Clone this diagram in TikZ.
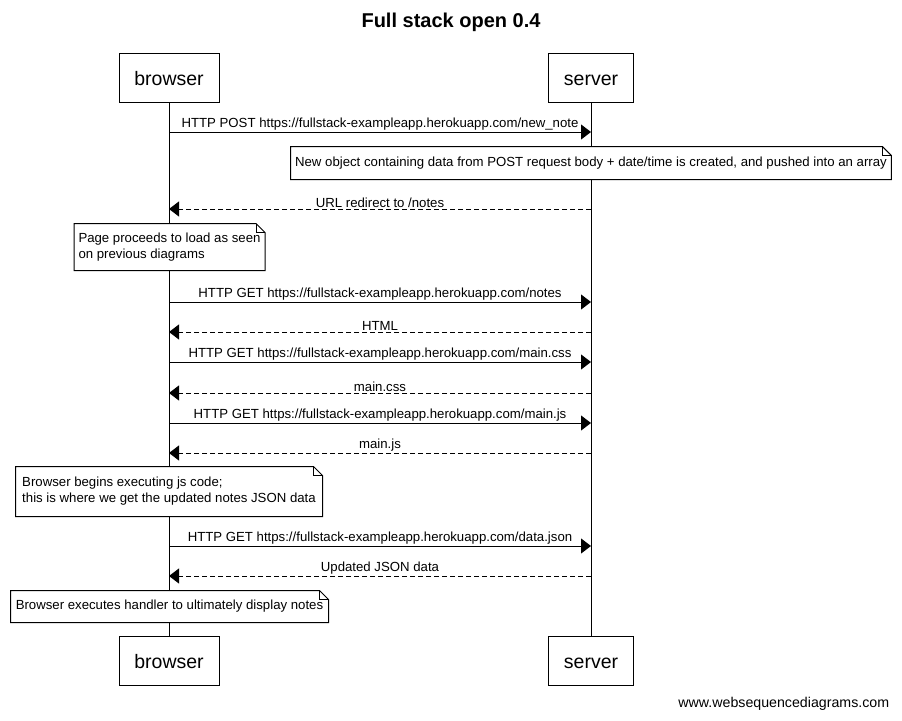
\documentclass[tikz,border=0pt]{standalone}
\usepackage{fontspec}
\setmainfont{Liberation Sans}
\usetikzlibrary{arrows.meta}

% outline of a note with a folded corner
\newcommand{\notefold}[1]{%
\draw (#1.south west) -- (#1.north west) -- ([xshift=-9pt]#1.north east) -- ([yshift=-9pt]#1.north east) -- (#1.south east) -- cycle;
\draw ([xshift=-9pt]#1.north east) -- ([xshift=-9pt,yshift=-9pt]#1.north east) -- ([yshift=-9pt]#1.north east);}

\begin{document}
\begin{tikzpicture}[x=1pt, y=-1pt, line width=1pt,
  actor/.style={draw, minimum height=49pt, text height=18pt, text depth=2pt, font=\fontsize{19.5}{22}\selectfont},
  note/.style={fill=white, inner xsep=4pt, align=left, font=\fontsize{13.2}{16}\selectfont},
  call/.style={-{Triangle[length=10pt,width=15pt]}},
  reply/.style={call, dash pattern=on 5pt off 3pt},
  lbl/.style={above, inner sep=1pt, font=\fontsize{13.2}{15}\selectfont}]
\useasboundingbox (0,0) rectangle (902,720);

\node[font=\bfseries\fontsize{20}{24}\selectfont](title) at (451,22) {Full stack open 0.4};

\node[actor, minimum width=100pt](browser) at (169,77.5) {browser};
\node[actor, minimum width=85pt](server) at (591,77.5) {server};
\node[actor, minimum width=100pt](browserend) at (169,660.5) {browser};
\node[actor, minimum width=85pt](serverend) at (591,660.5) {server};

\draw (browser) -- (browserend);
\draw (server) -- (serverend);

\foreach \i/\y in {1/132,2/209,3/302,4/332,5/362,6/393,7/423,8/453,9/546,10/576}{
  \coordinate (b\i) at (169,\y);
  \coordinate (s\i) at (591,\y);
}

\draw[call] (b1) -- node[lbl]{HTTP POST https://fullstack-exampleapp.herokuapp.com/new\_note} (s1);

\node[note, minimum width=598pt, minimum height=32pt](created) at (591,163) {New object containing data from POST request body + date/time is created, and pushed into an array};
\notefold{created}

\draw[reply] (s2) -- node[lbl]{URL redirect to /notes} (b2);

\node[note, minimum width=189pt, minimum height=46pt](proceeds) at (169.5,247) {Page proceeds to load as seen\\on previous diagrams};
\notefold{proceeds}

\draw[call] (b3) -- node[lbl]{HTTP GET https://fullstack-exampleapp.herokuapp.com/notes} (s3);
\draw[reply] (s4) -- node[lbl]{HTML} (b4);
\draw[call] (b5) -- node[lbl]{HTTP GET https://fullstack-exampleapp.herokuapp.com/main.css} (s5);
\draw[reply] (s6) -- node[lbl]{main.css} (b6);
\draw[call] (b7) -- node[lbl]{HTTP GET https://fullstack-exampleapp.herokuapp.com/main.js} (s7);
\draw[reply] (s8) -- node[lbl]{main.js} (b8);

\node[note, minimum width=306pt, minimum height=49pt](executing) at (169,491.5) {Browser begins executing js code;\\this is where we get the updated notes JSON data};
\notefold{executing}

\draw[call] (b9) -- node[lbl]{HTTP GET https://fullstack-exampleapp.herokuapp.com/data.json} (s9);
\draw[reply] (s10) -- node[lbl]{Updated JSON data} (b10);

\node[note, minimum width=317pt, minimum height=31pt](handler) at (169.5,606.5) {Browser executes handler to ultimately display notes};
\notefold{handler}

\node[anchor=east, font=\fontsize{14.2}{17}\selectfont](credit) at (893,704) {www.websequencediagrams.com};

\end{tikzpicture}
\end{document}
